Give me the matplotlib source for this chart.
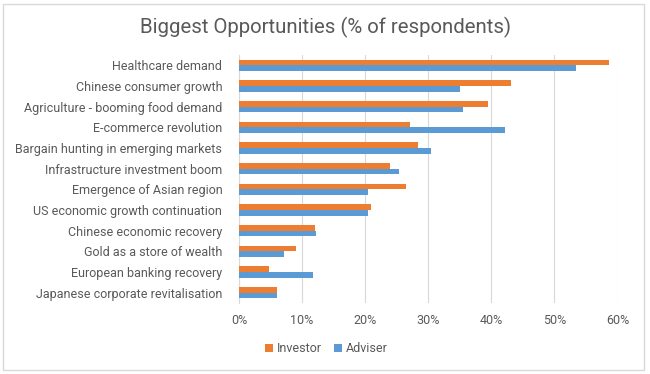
import numpy as np
import matplotlib.pyplot as plt
from matplotlib.patches import Rectangle

plt.rcParams['font.family'] = ['Roboto', 'DejaVu Sans']

categorias = [
    "Healthcare demand",
    "Chinese consumer growth",
    "Agriculture - booming food demand",
    "E-commerce revolution",
    "Bargain hunting in emerging markets",
    "Infrastructure investment boom",
    "Emergence of Asian region",
    "US economic growth continuation",
    "Chinese economic recovery",
    "Gold as a store of wealth",
    "European banking recovery",
    "Japanese corporate revitalisation",
]
investor = [58.6, 43.1, 39.5, 27.1, 28.4, 23.9, 26.5, 20.9, 12.1, 9.0, 4.8, 6.0]
adviser = [53.4, 35.1, 35.5, 42.2, 30.5, 25.4, 20.4, 20.4, 12.2, 7.1, 11.7, 6.1]
ticks = [0, 10, 20, 30, 40, 50, 60]

cor_inv = "#ED7D31"
cor_adv = "#5B9BD5"
cinza = "#595959"

fig = plt.figure(figsize=(6.5, 3.74), dpi=100)
ax = fig.add_axes([0.3677, 0.190, 0.5823, 0.663])

y = np.arange(len(categorias))
h = 0.27
ax.barh(y - h/2, investor, height=h, color=cor_inv, label="Investor", zorder=3)
ax.barh(y + h/2, adviser, height=h, color=cor_adv, label="Adviser", zorder=3)

ax.set_ylim(len(categorias) - 0.5, -0.5)
ax.set_xlim(0, 60)
ax.set_yticks(y)
ax.set_yticklabels(categorias, fontsize=9, color=cinza)
ax.set_xticks(ticks)
ax.set_xticklabels([f"{t}%" for t in ticks], fontsize=9, color=cinza)
ax.tick_params(length=0, pad=12, axis="y")
ax.tick_params(length=0, pad=8, axis="x")
ax.grid(axis="x", color="#d9d9d9", lw=0.8, zorder=0)
for s in ["top", "right", "bottom"]:
    ax.spines[s].set_visible(False)
ax.spines["left"].set_color("#d9d9d9")

# titulo
fig.text(0.5, 1 - 33/374, "Biggest Opportunities (% of respondents)", ha="center", va="baseline",
         fontsize=14.7, color=cinza)

fig.legend(loc="center", bbox_to_anchor=(0.502, 0.067), ncol=2, frameon=False,
           fontsize=9, handlelength=0.6, handleheight=0.6, handletextpad=0.3,
           columnspacing=1.0, labelcolor=cinza)

# borda externa
fig.patches.append(Rectangle((3/650, 4/374), 641/650, 366/374, transform=fig.transFigure,
                             fill=False, edgecolor="#d9d9d9", lw=1))

fig.savefig("out.png", dpi=100)
